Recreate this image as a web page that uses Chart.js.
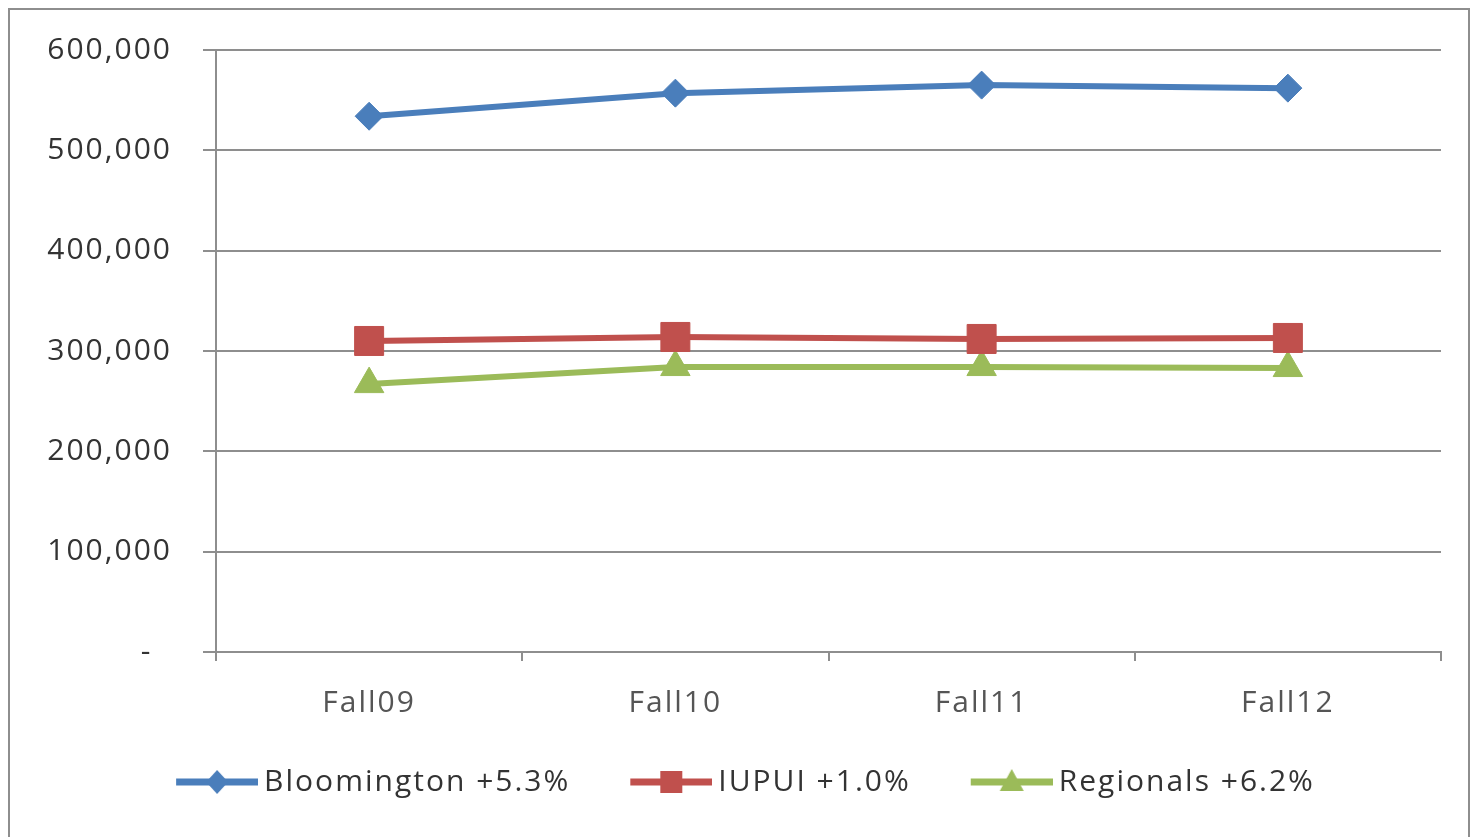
<!DOCTYPE html>
<html>
<head>
<meta charset="utf-8">
<script src="https://cdn.jsdelivr.net/npm/chart.js@4.4.1/dist/chart.umd.min.js"></script>
<style>
     html, body { margin: 0; padding: 0; background: #fff; overflow: hidden; }
     #frame { position: absolute; left: 8px; top: 8px; width: 1458px; height: 900px; border: 2px solid #8e8e8e; }
     #wrap { position: absolute; left: 0; top: 0; width: 1476px; height: 837px; }
</style>
</head>
<body>
<div id="frame"></div>
<div id="wrap"><canvas id="enrollChart"></canvas></div>
<script>
const terms = ['Fall09', 'Fall10', 'Fall11', 'Fall12'];
const bloomington = [534000, 557000, 565000, 562000];
const iupui = [310000, 314000, 312000, 313000];
const regionals = [267000, 284000, 284000, 283000];
const seriesNames = ['Bloomington +5.3%', 'IUPUI +1.0%', 'Regionals +6.2%'];
const yTicks = [0, 100000, 200000, 300000, 400000, 500000, 600000];

const blue = '#4a7ebb';
const red = '#c0504d';
const green = '#9bbb59';

// legend icon: line with the marker in the middle (Excel style)
function legendIcon(color, shape) {
     const c = document.createElement('canvas');
     c.width = 141;
     c.height = 34;
     const g = c.getContext('2d');
     const cx = 100, cy = 17;
     g.strokeStyle = color;
     g.fillStyle = color;
     g.lineWidth = 7;
     g.beginPath();
     g.moveTo(59, cy);
     g.lineTo(141, cy);
     g.stroke();
     g.beginPath();
     if (shape === 'diamond') {
          g.moveTo(cx - 11, cy);
          g.lineTo(cx, cy - 12);
          g.lineTo(cx + 11, cy);
          g.lineTo(cx, cy + 12);
     } else if (shape === 'square') {
          g.rect(cx - 11, cy - 11, 22, 22);
     } else {
          g.moveTo(cx, cy - 13);
          g.lineTo(cx + 12, cy + 9);
          g.lineTo(cx - 12, cy + 9);
     }
     g.closePath();
     g.fill();
     return c;
}
const icons = [legendIcon(blue, 'diamond'), legendIcon(red, 'square'), legendIcon(green, 'triangle')];

// the source text is spaced out a bit
const spacing = {
     id: 'spacing',
     beforeLayout: function (chart) { chart.ctx.letterSpacing = '2px'; },
     beforeDraw: function (chart) { chart.ctx.letterSpacing = '2px'; }
};

document.addEventListener('DOMContentLoaded', function () {
     const ctx = document.getElementById('enrollChart').getContext('2d');
     new Chart(ctx, {
          type: 'line',
          plugins: [spacing],
          data: {
               labels: terms,
               datasets: [{
                    label: seriesNames[0],
                    data: bloomington,
                    borderColor: blue,
                    backgroundColor: blue,
                    borderWidth: 6,
                    pointStyle: 'rectRot',
                    pointRadius: 14,
                    pointBorderWidth: 1
               }, {
                    label: seriesNames[1],
                    data: iupui,
                    borderColor: red,
                    backgroundColor: red,
                    borderWidth: 6,
                    pointStyle: 'rect',
                    pointRadius: 20.5,
                    pointBorderWidth: 1
               }, {
                    label: seriesNames[2],
                    data: regionals,
                    borderColor: green,
                    backgroundColor: green,
                    borderWidth: 6,
                    pointStyle: 'triangle',
                    pointRadius: 17,
                    pointBorderWidth: 1
               }]
          },
          options: {
               responsive: true,
               maintainAspectRatio: false,
               animation: false,
               layout: {
                    padding: { left: 0, right: 35, top: 50, bottom: 30 }
               },
               plugins: {
                    tooltip: { enabled: false },
                    legend: {
                         position: 'bottom',
                         labels: {
                              usePointStyle: true,
                              pointStyleWidth: 123,
                              padding: 10,
                              color: '#333',
                              font: { family: 'Open Sans', size: 30 },
                              generateLabels: function (chart) {
                                   const items = Chart.defaults.plugins.legend.labels.generateLabels(chart);
                                   items.forEach(function (it, i) { it.pointStyle = icons[i]; });
                                   return items;
                              }
                         }
                    }
               },
               scales: {
                    x: {
                         offset: true,
                         grid: {
                              offset: true,
                              drawOnChartArea: false,
                              tickLength: 9,
                              color: '#8e8e8e',
                              lineWidth: 2
                         },
                         border: { color: '#8e8e8e', width: 2 },
                         ticks: {
                              padding: 24,
                              color: '#555',
                              font: { family: 'Open Sans', size: 30 }
                         },
                         afterFit: function (scale) { scale.height = 105; }
                    },
                    y: {
                         min: 0,
                         max: 600000,
                         afterBuildTicks: function (scale) {
                              scale.ticks = yTicks.map(function (v) { return { value: v }; });
                         },
                         grid: {
                              tickLength: 13,
                              color: '#8e8e8e',
                              lineWidth: 2
                         },
                         border: { color: '#8e8e8e', width: 2 },
                         ticks: {
                              padding: 31,
                              color: '#333',
                              font: { family: 'Open Sans', size: 30 },
                              callback: function (v) {
                                   return v === 0 ? '-  ' : v.toLocaleString('en-US');
                              }
                         },
                         afterFit: function (scale) { scale.width = 216; }
                    }
               }
          }
     });
});
</script>
</body>
</html>
